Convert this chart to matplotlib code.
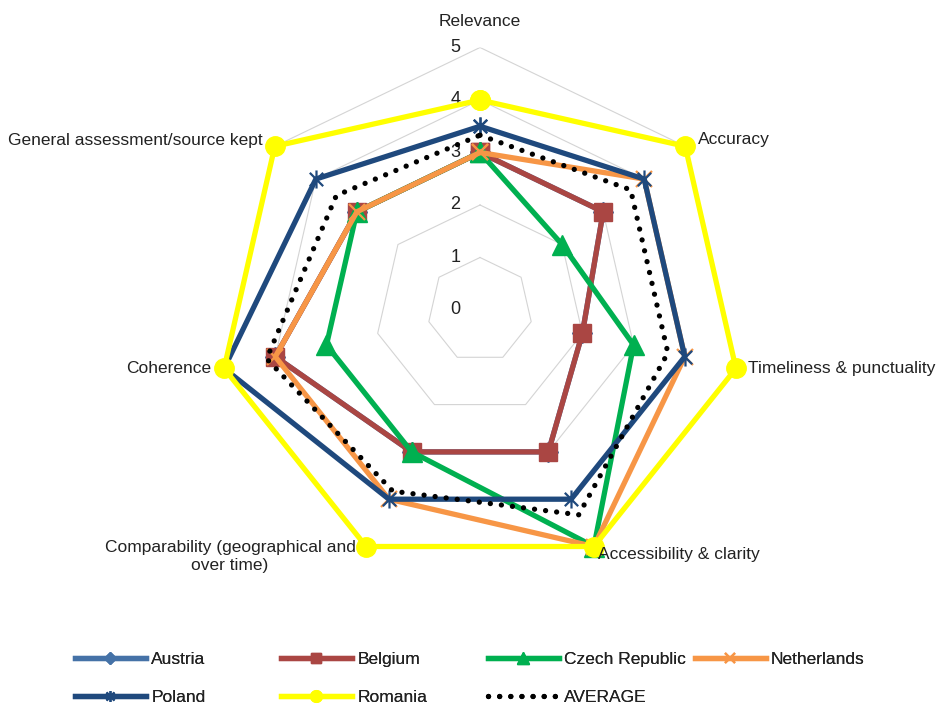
import numpy as np
import matplotlib
matplotlib.use('Agg')
import matplotlib.pyplot as plt
from matplotlib.path import Path

plt.rcParams['font.family'] = ['Liberation Sans', 'DejaVu Sans']

categories = ['Relevance', 'Accuracy', 'Timeliness & punctuality', 'Accessibility & clarity',
              'Comparability (geographical and\nover time)', 'Coherence',
              'General assessment/source kept']

austria = [3, 3, 2, 3, 3, 4, 3]
belgium = [3, 3, 2, 3, 3, 4, 3]
czech = [3, 2, 3, 5, 3, 3, 3]
netherlands = [3, 4, 4, 5, 4, 4, 3]
poland = [3.5, 4, 4, 4, 4, 5, 4]
romania = [4, 5, 5, 5, 5, 5, 5]
average = [3.33, 3.67, 3.67, 4.33, 3.83, 4.17, 3.5]

r_ticks = [0, 1, 2, 3, 4, 5]

FS = 12.5
TXT = '#222222'

# asterisk marker (x with a vertical bar)
star = Path([(-1, -1), (1, 1), (-1, 1), (1, -1), (0, -1.35), (0, 1.35)],
            [Path.MOVETO, Path.LINETO, Path.MOVETO, Path.LINETO, Path.MOVETO, Path.LINETO])

series = [
    ('Austria', austria, dict(color='#4572A7', marker='D', ms=10)),
    ('Belgium', belgium, dict(color='#AA4643', marker='s', ms=13)),
    ('Czech Republic', czech, dict(color='#00B050', marker='^', ms=14)),
    ('Netherlands', netherlands, dict(color='#F79646', marker='x', ms=12, mew=1.6)),
    ('Poland', poland, dict(color='#1F497D', marker=star, ms=13, mew=1.6)),
    ('Romania', romania, dict(color='#FFFF00', marker='o', ms=14)),
]

n = len(categories)
theta = np.arange(n) * 2 * np.pi / n
closed = np.append(theta, theta[0])

fig = plt.figure(figsize=(9.36, 7.11), dpi=100)
ax = fig.add_axes([0.2324, 0.1948, 0.5609, 0.7384], projection='polar')
ax.set_theta_zero_location('N')
ax.set_theta_direction(-1)
ax.set_ylim(0, 5)
ax.grid(False)
ax.set_xticks([])
ax.set_yticks([])
ax.spines['polar'].set_visible(False)
ax.patch.set_visible(False)

# heptagon gridlines
for r in r_ticks[1:]:
    ax.plot(closed, [r] * (n + 1), color='#d4d4d4', lw=0.8, zorder=1)

for r in r_ticks:
    ax.annotate(str(r), xy=(0, r), xytext=(-14, 0), textcoords='offset points',
                ha='right', va='center', fontsize=FS + 0.5, color=TXT)

handles = []
for name, vals, st in series:
    vv = vals + vals[:1]
    h, = ax.plot(closed, vv, lw=3.8, solid_joinstyle='round', label=name,
                 clip_on=False, zorder=3, **st)
    handles.append(h)

h_avg, = ax.plot(closed, average + average[:1], color='black', lw=3.8,
                 linestyle=(0, (0.01, 2.1)), dash_capstyle='round',
                 label='AVERAGE', clip_on=False, zorder=3)

# category labels
lab_kw = dict(fontsize=FS, color=TXT, va='center')
ax.annotate(categories[0], xy=(theta[0], 5), xytext=(0, 19), textcoords='offset points',
            ha='center', **lab_kw)
ax.annotate(categories[1], xy=(theta[1], 5), xytext=(9, 5), textcoords='offset points',
            ha='left', **lab_kw)
ax.annotate(categories[2], xy=(theta[2], 5), xytext=(9, 0), textcoords='offset points',
            ha='left', **lab_kw)
ax.annotate(categories[3], xy=(theta[3], 5), xytext=(3, -6), textcoords='offset points',
            ha='left', **lab_kw)
ax.annotate(categories[4], xy=(theta[4], 5), xytext=(-98, -7), textcoords='offset points',
            ha='center', multialignment='center', linespacing=1.25, **lab_kw)
ax.annotate(categories[5], xy=(theta[5], 5), xytext=(-9, 0), textcoords='offset points',
            ha='right', **lab_kw)
ax.annotate(categories[6], xy=(theta[6], 5), xytext=(-9, 4), textcoords='offset points',
            ha='right', **lab_kw)

# legend laid out in fixed-width columns
cols = [[handles[0], handles[4]], [handles[1], handles[5]],
        [handles[2], h_avg], [handles[3]]]
xs = [0.080, 0.300, 0.521, 0.742]
for x, hs in zip(xs, cols):
    leg = fig.legend(handles=hs, loc='upper left', bbox_to_anchor=(x, 0.083),
                     frameon=False, fontsize=FS, handlelength=4.1, handletextpad=0.3,
                     labelspacing=1.3, markerscale=0.6, borderpad=0, borderaxespad=0)
    for t in leg.get_texts():
        t.set_color(TXT)
    fig.add_artist(leg)

fig.savefig('out.png', dpi=100)
